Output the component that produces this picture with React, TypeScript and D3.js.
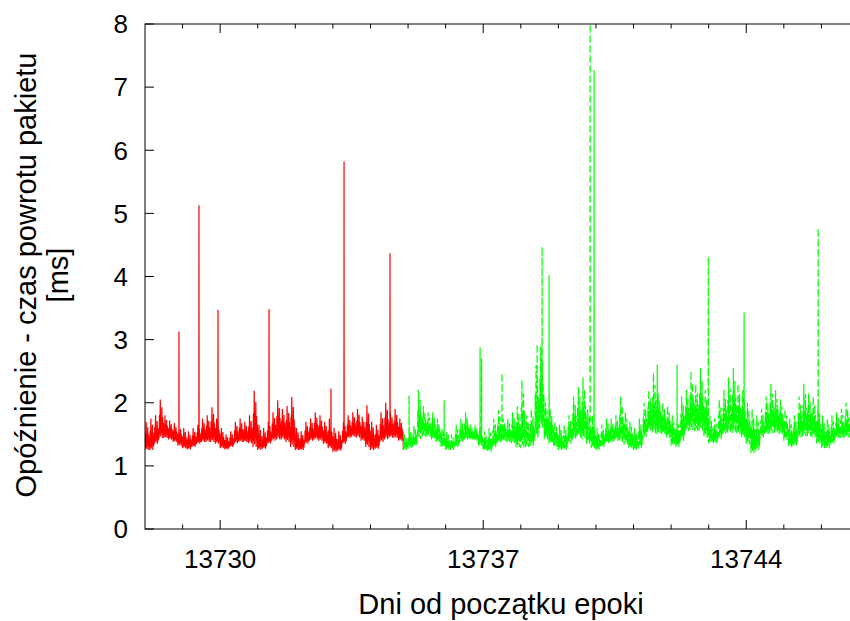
import React from "react";
import * as d3 from "d3";

// ---- Data ----
const BIN = 0.125; // days per bin
const redStart = 13728.0;
const redLo = [1.25,1.25,1.35,1.44,1.44,1.42,1.38,1.32,1.28,1.26,1.3,1.35,1.38,1.38,1.38,1.35,1.28,1.26,1.3,1.36,1.38,1.38,1.36,1.3,1.25,1.27,1.35,1.4,1.42,1.42,1.38,1.3,1.25,1.25,1.35,1.4,1.42,1.4,1.35,1.28,1.22,1.24,1.35,1.44,1.46,1.45,1.4,1.3,1.25,1.27,1.38,1.42,1.45,1.44,1.4];
const redHi = [1.7,1.75,1.8,2.05,1.8,1.72,1.68,1.65,1.6,1.55,1.6,1.65,1.75,1.8,1.93,1.75,1.6,1.5,1.55,1.7,1.75,1.7,1.8,2.19,1.65,1.6,1.7,1.85,2.04,1.9,1.95,2.09,1.6,1.55,1.7,1.75,1.85,1.8,1.7,1.75,1.6,1.55,1.7,1.8,1.85,1.9,1.78,1.96,1.7,1.65,1.85,2.0,1.85,1.9,1.75];
const greenStart = 13734.875;
const greenLo = [1.25,1.28,1.3,1.42,1.46,1.46,1.42,1.38,1.3,1.25,1.25,1.3,1.38,1.42,1.42,1.4,1.32,1.25,1.22,1.3,1.36,1.4,1.38,1.36,1.3,1.28,1.3,1.32,1.45,1.6,1.42,1.35,1.3,1.25,1.25,1.35,1.42,1.45,1.42,1.35,1.28,1.25,1.3,1.36,1.38,1.4,1.38,1.34,1.28,1.25,1.28,1.45,1.55,1.52,1.5,1.5,1.45,1.32,1.3,1.4,1.55,1.57,1.55,1.55,1.45,1.36,1.36,1.42,1.5,1.52,1.52,1.5,1.45,1.35,1.2,1.25,1.45,1.5,1.52,1.52,1.5,1.4,1.3,1.32,1.45,1.47,1.47,1.45,1.35,1.28,1.28,1.35,1.44,1.44,1.45,1.45];
const greenHi = [1.5,1.6,1.65,2.2,1.95,1.85,1.85,1.75,1.6,1.55,1.5,1.65,1.75,1.85,1.65,1.65,1.6,1.55,1.6,1.75,1.88,1.75,1.75,1.85,1.95,2.36,1.8,1.9,2.6,2.9,2.0,1.9,1.7,1.65,1.65,1.8,2.1,2.25,2.4,1.9,1.8,1.6,1.65,1.75,1.75,1.8,2.1,1.85,1.7,1.6,1.75,2.0,2.2,2.47,2.15,2.0,1.95,1.8,1.75,2.1,2.2,2.5,2.3,2.55,2.2,1.8,1.75,2.05,2.2,2.4,2.55,2.3,2.2,2.0,1.9,1.8,1.9,2.1,2.3,2.2,2.05,1.9,1.75,1.8,2.1,2.3,2.15,2.1,1.95,1.8,1.75,1.8,1.85,1.9,2.0,2.0];
const redSpikeDays = [13728.905,13729.437,13729.943,13731.30,13732.95,13733.297,13734.52];
const redSpikeVals = [3.13,5.13,3.47,3.48,2.22,5.82,4.37];
const greenSpikeDays = [13735.027,13735.96,13736.917,13736.957,13737.5,13738.434,13738.567,13738.753,13739.845,13739.95,13741.63,13742.16,13742.99,13743.943,13745.913];
const greenSpikeVals = [2.12,2.04,2.88,2.7,2.47,2.93,4.47,4.02,8.0,7.27,2.6,2.6,4.31,3.43,4.77];
const yTicks = [0,1,2,3,4,5,6,7,8];
const xMajorTicks = [13730,13737,13744];
const xMinorTicks = d3.range(13729, 13747);

const W = 850, H = 621;
const left = 145, right = 859, top = 24, bottom = 529;
const FONT = "'Liberation Sans', Arial, Helvetica, sans-serif";
// position of each sample inside a bin between its low (0) and high (1) reading
const SUB = [0, 0.6, 0.1, 1.0, 0.05, 0.5, 0.15, 0.8, 0.0, 0.55, 0.12, 0.4];

type P = [number, number];

function buildPath(start: number, lo: number[], hi: number[], spikeDays: number[], spikeVals: number[]): P[] {
  const pts: P[] = [];
  lo.forEach((l, i) => {
    const t = start + i * BIN;
    const h = hi[i];
    SUB.forEach((f, k) => {
      pts.push([t + (BIN * k) / SUB.length, l + f * (h - l)]);
    });
  });
  spikeDays.forEach((d, k) => {
    const idx = pts.findIndex(p => p[0] > d);
    const bi = Math.min(lo.length - 1, Math.max(0, Math.floor((d - start) / BIN)));
    const base = lo[bi] + 0.05;
    const ins: P[] = [[d - 0.003, base], [d, spikeVals[k]], [d + 0.003, base]];
    if (idx < 0) pts.push(...ins); else pts.splice(idx, 0, ...ins);
  });
  return pts;
}

export default function App() {
  const x = d3.scaleLinear().domain([13728, 13747]).range([left, right]);
  const y = d3.scaleLinear().domain([0, 8]).range([bottom, top]);
  const line = d3.line<P>().x(d => x(d[0])).y(d => y(d[1]));

  const redPts = buildPath(redStart, redLo, redHi, redSpikeDays, redSpikeVals);
  const greenPts = buildPath(greenStart, greenLo, greenHi, greenSpikeDays, greenSpikeVals);
  redPts.push([greenStart, greenLo[0]]);

  return (
    <svg width={W} height={H} style={{ position: "absolute", left: 0, top: 0, background: "#fff" }}
      fontFamily={FONT}>
      <defs>
        <clipPath id="plot">
          <rect x={left} y={top} width={right - left} height={bottom - top} />
        </clipPath>
      </defs>
      <rect x={0} y={0} width={W} height={H} fill="#fff" />
      <g clipPath="url(#plot)">
        <path d={line(redPts) || ""} fill="none" stroke="#ff0000" strokeWidth={1.2} />
        <path d={line(greenPts) || ""} fill="none" stroke="#00ff00" strokeWidth={1.2} strokeDasharray="7,3" />
      </g>
      <rect x={left} y={top} width={right - left} height={bottom - top} fill="none" stroke="#000" strokeWidth={1} />
      {yTicks.map(v => (
        <g key={"y" + v}>
          <line x1={left} x2={left + 9} y1={y(v)} y2={y(v)} stroke="#000" strokeWidth={1} />
          <line x1={right} x2={right - 9} y1={y(v)} y2={y(v)} stroke="#000" strokeWidth={1} />
          <text x={left - 17} y={y(v)} dy="0.36em" textAnchor="end" fontSize={26} fill="#000">{v}</text>
        </g>
      ))}
      {xMinorTicks.filter(v => !xMajorTicks.includes(v)).map(v => (
        <g key={"xm" + v}>
          <line x1={x(v)} x2={x(v)} y1={bottom} y2={bottom - 4.5} stroke="#000" strokeWidth={1} />
          <line x1={x(v)} x2={x(v)} y1={top} y2={top + 4.5} stroke="#000" strokeWidth={1} />
        </g>
      ))}
      {xMajorTicks.map(v => (
        <g key={"xM" + v}>
          <line x1={x(v)} x2={x(v)} y1={bottom} y2={bottom - 9} stroke="#000" strokeWidth={1} />
          <line x1={x(v)} x2={x(v)} y1={top} y2={top + 9} stroke="#000" strokeWidth={1} />
          <text x={x(v)} y={bottom + 39} textAnchor="middle" fontSize={26} fill="#000">{v}</text>
        </g>
      ))}
      <text x={501} y={614} textAnchor="middle" fontSize={29} fill="#000">Dni od początku epoki</text>
      <g transform="translate(36,275) rotate(-90)">
        <text x={0} y={0} textAnchor="middle" fontSize={29} fill="#000">Opóźnienie - czas powrotu pakietu</text>
        <text x={0} y={32} textAnchor="middle" fontSize={29} fill="#000">[ms]</text>
      </g>
    </svg>
  );
}
